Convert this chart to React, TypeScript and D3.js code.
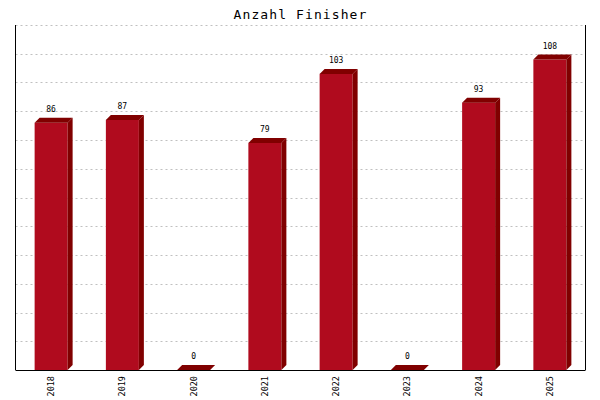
import React from "react";
import * as d3 from "d3";

const categories = ["2018", "2019", "2020", "2021", "2022", "2023", "2024", "2025"];
const values = [86, 87, 0, 79, 103, 0, 93, 108];
const yTicks = [0, 10, 20, 30, 40, 50, 60, 70, 80, 90, 100, 110, 120];
const title = "Anzahl Finisher";

const W = 600, H = 400;
const left = 15.5, right = 585.5, top = 25, bottom = 370;
const depth = 5;
const FRONT = "#B00B1E";
const DARK = "#800000";
const MONO = "'DejaVu Sans Mono', 'Liberation Mono', monospace";

export default function App() {
  const x = d3.scaleBand<string>().domain(categories).range([left, right]).paddingInner(0);
  const y = d3.scaleLinear().domain([0, 120]).range([bottom, top]);
  const bw = 33;

  return (
    <svg width={W} height={H} style={{ position: "absolute", left: 0, top: 0 }}>
      <rect width={W} height={H} fill="#fff" />
      <text
        x={300 + 0.5}
        y={18.5}
        textAnchor="middle"
        fontFamily={MONO}
        fontSize={13}
        letterSpacing={1.1}
        fill="#000"
      >
        {title}
      </text>
      {yTicks.slice(1).map((t) => (
        <line
          key={t}
          x1={left}
          x2={right}
          y1={Math.round(y(t)) + 0.5}
          y2={Math.round(y(t)) + 0.5}
          stroke="#c0c0c0"
          strokeDasharray="2,3"
        />
      ))}
      {categories.map((c, i) => {
        const v = values[i];
        const cx = (x(c) as number) + x.bandwidth() / 2;
        const x0 = cx - bw / 2;
        const yt = y(v);
        const x1 = x0 + bw;
        return (
          <g key={c}>
            {v > 0 && <rect x={x0} y={yt} width={bw} height={bottom - yt} fill={FRONT} />}
            <polygon
              points={`${x0},${yt} ${x0 + depth},${yt - depth} ${x1 + depth},${yt - depth} ${x1},${yt}`}
              fill={DARK}
            />
            {v > 0 && (
              <polygon
                points={`${x1},${yt} ${x1 + depth},${yt - depth} ${x1 + depth},${bottom - depth} ${x1},${bottom}`}
                fill={DARK}
              />
            )}
            <text
              x={cx}
              y={yt - depth - 6}
              textAnchor="middle"
              fontFamily={MONO}
              fontSize={8}
              fill="#000"
            >
              {v}
            </text>
            <text
              transform={`translate(${cx + 3},${bottom + 6}) rotate(-90)`}
              textAnchor="end"
              fontFamily={MONO}
              fontSize={8.5}
              fill="#000"
            >
              {c}
            </text>
          </g>
        );
      })}
      <line x1={left} x2={left} y1={top} y2={bottom} stroke="#000" />
      <line x1={right} x2={right} y1={top} y2={bottom} stroke="#000" />
      <line x1={left} x2={right} y1={bottom + 0.5} y2={bottom + 0.5} stroke="#000" />
    </svg>
  );
}
